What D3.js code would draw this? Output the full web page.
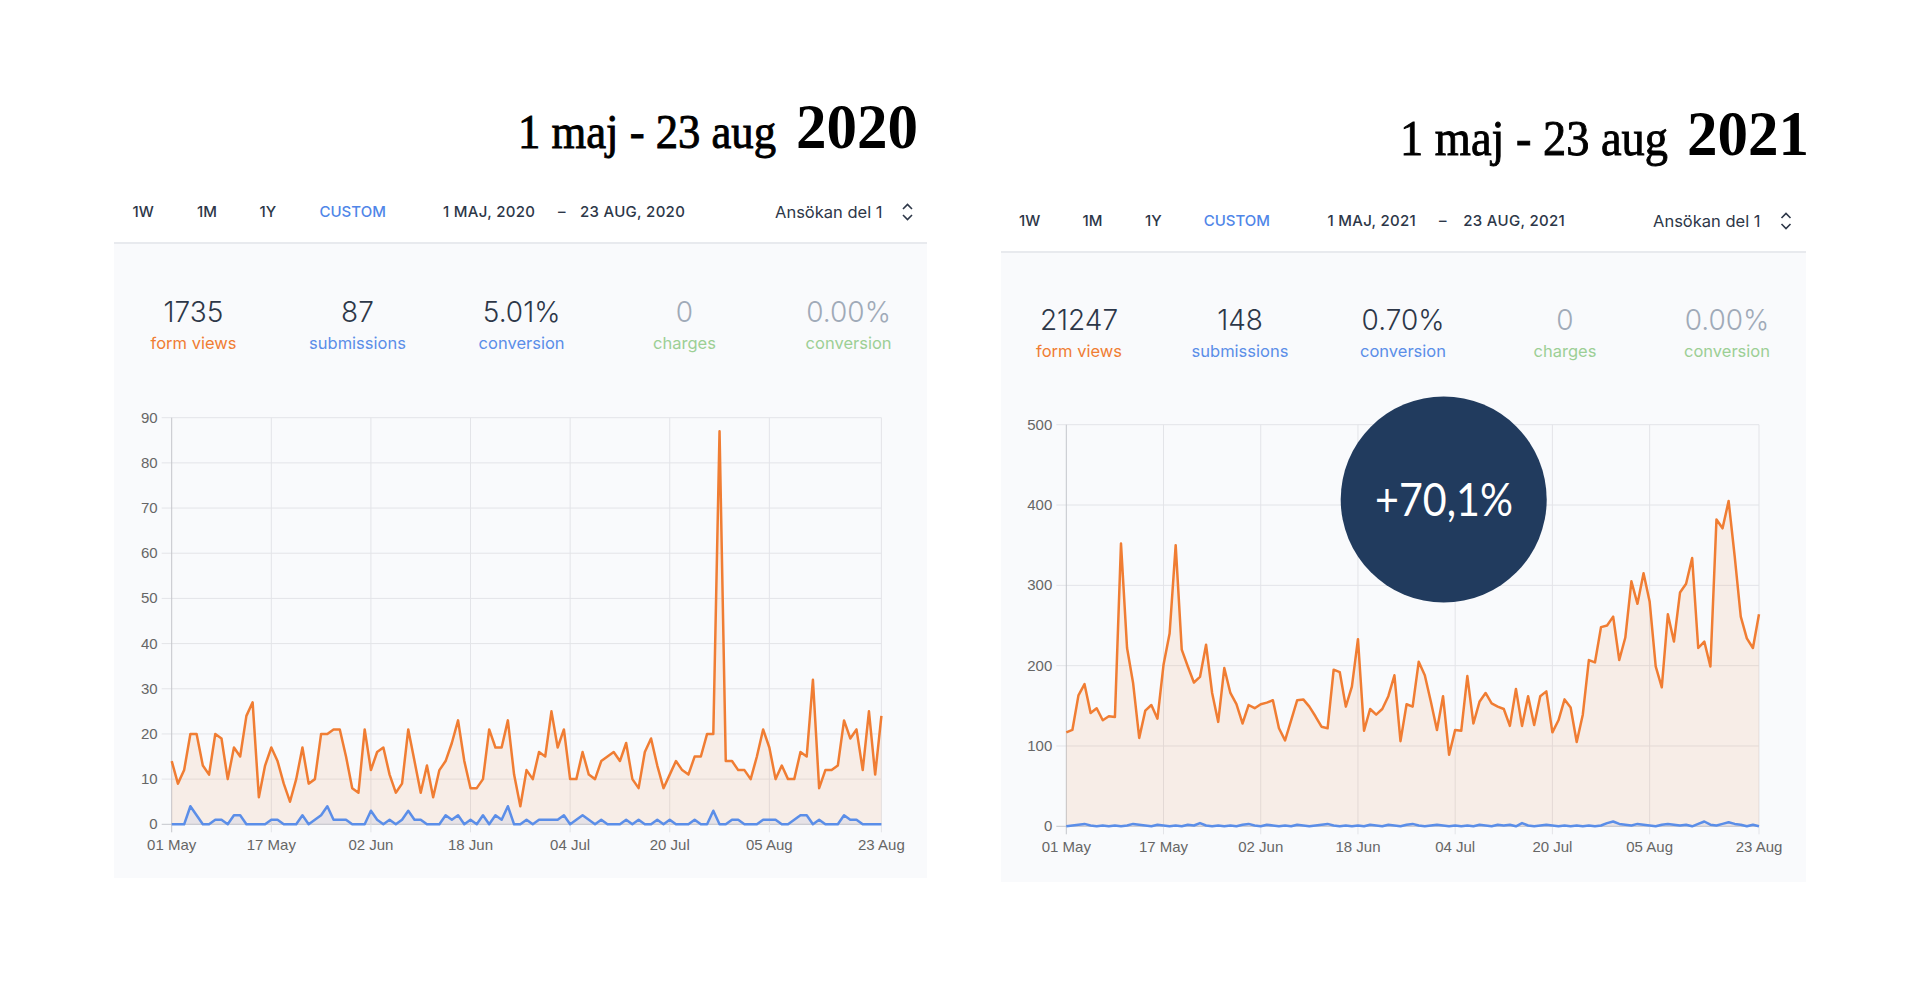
<!DOCTYPE html>
<html>
<head>
<meta charset="utf-8">
<script src="https://cdn.jsdelivr.net/npm/d3@7/dist/d3.min.js"></script>
<style>
  html, body { margin: 0; padding: 0; background: #ffffff; }
  svg { display: block; }
</style>
</head>
<body>
<svg id="chart" width="1920" height="999"></svg>
<script>
// ---------------- DATA ----------------
const periodStart2020 = "2020-05-01";
const periodEnd2020 = "2020-08-23";
const periodStart2021 = "2021-05-01";
const periodEnd2021 = "2021-08-23";

const tickDates2020 = ["2020-05-01","2020-05-17","2020-06-02","2020-06-18","2020-07-04","2020-07-20","2020-08-05","2020-08-23"];
const tickDates2021 = ["2021-05-01","2021-05-17","2021-06-02","2021-06-18","2021-07-04","2021-07-20","2021-08-05","2021-08-23"];

const yTicks2020 = [0,10,20,30,40,50,60,70,80,90];
const yTicks2021 = [0,100,200,300,400,500];

const formViews2020 = [
  14, 9,12,20,20,13,11,20,19,10,
  17,15,24,27, 6,13,17,14, 9, 5,
  10,17, 9,10,20,20,21,21,15, 8,
   7,21,12,16,17,11, 7, 9,21,14,
   7,13, 6,12,14,18,23,14, 8, 8,
  10,21,17,17,23,11, 4,12,10,16,
  15,25,17,21,10,10,16,11,10,14,
  15,16,14,18,10, 8,16,19,13, 8,
  11,14,12,11,15,15,20,20,87,14,
  14,12,12,10,15,21,17,10,13,10,
  10,16,15,32, 8,12,12,13,23,19,
  21,12,25,11,24
];
const submissions2020 = [
  0,0,0,4,2,0,0,1,1,0,
  2,2,0,0,0,0,1,1,0,0,
  0,2,0,1,2,4,1,1,1,0,
  0,0,3,1,0,1,0,1,3,1,
  1,0,0,0,2,1,2,0,1,0,
  2,0,2,1,4,0,0,1,0,1,
  1,1,1,2,0,1,2,1,0,1,
  0,0,0,1,0,1,0,0,1,0,
  1,0,0,0,1,0,0,3,0,0,
  1,1,0,0,0,1,1,1,0,0,
  1,2,2,0,1,0,0,0,2,1,
  1,0,0,0,0
];
const formViews2021 = [
  117,120,163,177,141,147,132,137,136,352,
  222,178,110,144,151,134,201,240,350,220,
  199,179,186,226,166,130,197,166,152,128,
  151,147,152,154,157,122,107,132,157,158,
  149,137,124,122,195,192,149,174,233,119,
  146,139,146,162,188,106,152,149,205,188,
  155,120,162, 89,120,119,187,128,155,166,
  153,149,146,125,171,125,162,126,162,168,
  117,132,158,148,105,139,207,204,248,250,
  261,207,235,305,277,315,280,199,173,264,
  230,291,302,334,222,230,199,382,371,405,
  336,261,234,222,264
];
const submissions2021 = [
  0,1,2,3,1,0,1,0,1,0,
  1,3,2,1,0,2,1,0,1,0,
  2,1,4,1,0,1,0,1,0,2,
  3,1,0,2,1,0,1,0,2,1,
  0,1,2,3,1,0,1,0,1,0,
  2,1,0,2,1,0,2,3,1,0,
  1,2,1,0,1,0,1,0,2,1,
  0,2,1,2,0,4,1,0,1,2,
  1,0,1,0,1,0,1,0,1,4,
  6,3,2,1,3,2,1,0,2,3,
  2,1,2,0,3,6,2,1,3,5,
  3,2,0,2,0
];

const navLabels = ["1W","1M","1Y","CUSTOM"];
const rangeLabels2020 = ["1 MAJ, 2020","–","23 AUG, 2020"];
const rangeLabels2021 = ["1 MAJ, 2021","–","23 AUG, 2021"];
const formName = "Ansökan del 1";

const statValues2020 = ["1735","87","5.01%","0","0.00%"];
const statValues2021 = ["21247","148","0.70%","0","0.00%"];
const statLabels = ["form views","submissions","conversion","charges","conversion"];

const titleMain = "1 maj - 23 aug";
const titleYears = ["2020","2021"];
const badgeText = "+70,1%";

// ---------------- STYLE ----------------
const C = {
  panel: "#f9fafc",
  sep: "#e8eaee",
  nav: "#2d3748",
  navActive: "#4f86e8",
  numDark: "#2d3748",
  numGrey: "#a0aab8",
  orange: "#f07d33",
  blue: "#5b8ee8",
  green: "#9ccf95",
  grid: "#e3e4e8",
  axis: "#c4c6cb",
  tick: "#666666",
  badge: "#213b5e"
};
const statLabelColors = [C.orange, C.blue, C.blue, C.green, C.green];
const statNumColors = [C.numDark, C.numDark, C.numDark, C.numGrey, C.numGrey];

const svg = d3.select("#chart");
const parse = d3.utcParse("%Y-%m-%d");
const fmt = d3.utcFormat("%d %b");

function drawPanel(o) {
  const g = svg.append("g");

  // title
  g.append("text")
    .attr("x", o.title.x1).attr("y", o.title.base)
    .attr("font-family", "'Liberation Serif', 'DejaVu Serif', serif")
    .attr("font-size", o.title.fs1)
    .attr("stroke", "#000").attr("stroke-width", 0.9)
    .attr("textLength", o.title.w1).attr("lengthAdjust", "spacingAndGlyphs")
    .attr("fill", "#000").text(titleMain);
  g.append("text")
    .attr("x", o.title.x2).attr("y", o.title.base)
    .attr("font-family", "'Liberation Serif', 'DejaVu Serif', serif")
    .attr("font-size", o.title.fs2).attr("font-weight", "bold")
    .attr("textLength", o.title.w2).attr("lengthAdjust", "spacingAndGlyphs")
    .attr("fill", "#000").text(o.year);

  // panel bg + separator
  g.append("rect").attr("x", o.px0).attr("y", o.sepY)
    .attr("width", o.px1 - o.px0).attr("height", o.py1 - o.sepY).attr("fill", C.panel);
  g.append("rect").attr("x", o.px0).attr("y", o.sepY - 2)
    .attr("width", o.px1 - o.px0).attr("height", 2).attr("fill", C.sep);

  // nav row
  const navFont = "Inter, 'Noto Sans', sans-serif";
  navLabels.forEach((t, i) => {
    g.append("text").attr("x", o.navX[i]).attr("y", o.navY)
      .attr("font-family", navFont).attr("font-size", 15).attr("font-weight", 500)
      .attr("fill", t === "CUSTOM" ? C.navActive : C.nav).text(t);
  });
  o.range.forEach((t, i) => {
    g.append("text").attr("x", o.rangeX[i]).attr("y", o.navY)
      .attr("font-family", navFont).attr("font-size", 15).attr("font-weight", 500)
      .attr("letter-spacing", 0.3)
      .attr("fill", C.nav).text(t);
  });
  g.append("text").attr("x", o.formX).attr("y", o.navY + 1)
    .attr("font-family", navFont).attr("font-size", 16.5).attr("font-weight", 400)
    .attr("fill", C.nav).text(formName);
  const cx = o.chevX, cy = o.navY - 5;
  g.append("path")
    .attr("d", `M${cx-4.5},${cy-3} L${cx},${cy-7.5} L${cx+4.5},${cy-3} M${cx-4.5},${cy+3} L${cx},${cy+7.5} L${cx+4.5},${cy+3}`)
    .attr("fill", "none").attr("stroke", C.nav).attr("stroke-width", 1.6);

  // stats
  o.stats.forEach((v, i) => {
    g.append("text").attr("x", o.statX[i]).attr("y", o.statNumY)
      .attr("text-anchor", "middle").attr("font-family", navFont)
      .attr("font-size", 28).attr("font-weight", 300)
      .attr("fill", statNumColors[i]).text(v);
    g.append("text").attr("x", o.statX[i]).attr("y", o.statLabY)
      .attr("text-anchor", "middle").attr("font-family", navFont)
      .attr("font-size", 16.5).attr("font-weight", 400)
      .attr("fill", statLabelColors[i]).text(statLabels[i]);
  });

  // chart
  const x = d3.scaleUtc().domain([parse(o.start), parse(o.end)]).range([o.x0, o.x1]);
  const y = d3.scaleLinear().domain([0, o.yMax]).range([o.yB, o.yT]);
  const days = d3.utcDay.range(parse(o.start), d3.utcDay.offset(parse(o.end), 1));
  const ch = g.append("g");

  // horizontal grid
  ch.selectAll("line.h").data(o.yTicks).join("line")
    .attr("x1", o.x0 - 10).attr("x2", o.x1)
    .attr("y1", d => y(d)).attr("y2", d => y(d))
    .attr("stroke", d => d === 0 ? C.axis : C.grid).attr("stroke-width", 1);
  // vertical grid
  const tks = o.ticks.map(parse);
  ch.selectAll("line.v").data(tks).join("line")
    .attr("x1", d => x(d)).attr("x2", d => x(d))
    .attr("y1", o.yT).attr("y2", o.yB + 8)
    .attr("stroke", (d, i) => i === 0 ? C.axis : C.grid).attr("stroke-width", 1);

  const axisFont = "'Liberation Sans', Arial, sans-serif";
  ch.selectAll("text.yl").data(o.yTicks).join("text")
    .attr("x", o.x0 - 14).attr("y", d => y(d) + 5)
    .attr("text-anchor", "end").attr("font-family", axisFont).attr("font-size", 15)
    .attr("fill", C.tick).text(d => d);
  ch.selectAll("text.xl").data(tks).join("text")
    .attr("x", d => x(d)).attr("y", o.yB + 26)
    .attr("text-anchor", "middle").attr("font-family", axisFont).attr("font-size", 15)
    .attr("fill", C.tick).text(d => fmt(d));

  const series = [
    { vals: o.views, color: C.orange, fill: "rgba(240,125,51,0.10)" },
    { vals: o.subs, color: C.blue, fill: "rgba(91,142,232,0.10)" }
  ];
  series.forEach(s => {
    const pts = days.map((d, i) => [d, s.vals[i]]);
    ch.append("path").datum(pts)
      .attr("d", d3.area().x(d => x(d[0])).y0(y(0)).y1(d => y(d[1])))
      .attr("fill", s.fill);
  });
  series.forEach(s => {
    const pts = days.map((d, i) => [d, s.vals[i]]);
    ch.append("path").datum(pts)
      .attr("d", d3.line().x(d => x(d[0])).y(d => y(d[1])))
      .attr("fill", "none").attr("stroke", s.color).attr("stroke-width", 2.5)
      .attr("stroke-linejoin", "round");
  });
}

drawPanel({
  year: titleYears[0],
  title: { x1: 518, w1: 258, fs1: 48, x2: 796, w2: 122, fs2: 64, base: 148 },
  px0: 114, px1: 927, sepY: 244, py1: 878,
  navY: 217, navX: [132.5, 197, 259.5, 319.5], rangeX: [443, 558, 580],
  range: rangeLabels2020, formX: 775, chevX: 907.5,
  stats: statValues2020, statX: [193.5, 357.5, 521.6, 684.5, 848.6],
  statNumY: 322, statLabY: 349,
  start: periodStart2020, end: periodEnd2020, ticks: tickDates2020,
  x0: 171.7, x1: 881.4, yT: 417.7, yB: 824.3, yMax: 90, yTicks: yTicks2020,
  views: formViews2020, subs: submissions2020
});

drawPanel({
  year: titleYears[1],
  title: { x1: 1400, w1: 268, fs1: 50, x2: 1687, w2: 122, fs2: 64, base: 155 },
  px0: 1001, px1: 1806, sepY: 253, py1: 882,
  navY: 226, navX: [1019, 1082.5, 1145, 1203.7], rangeX: [1327.4, 1439, 1463.3],
  range: rangeLabels2021, formX: 1653, chevX: 1786,
  stats: statValues2021, statX: [1079, 1240, 1403, 1565, 1727],
  statNumY: 330, statLabY: 357,
  start: periodStart2021, end: periodEnd2021, ticks: tickDates2021,
  x0: 1066.3, x1: 1759, yT: 424.7, yB: 826.3, yMax: 500, yTicks: yTicks2021,
  views: formViews2021, subs: submissions2021
});

// badge
svg.append("circle").attr("cx", 1443.7).attr("cy", 499.5).attr("r", 103).attr("fill", C.badge);
svg.append("text").attr("x", 1444).attr("y", 516)
  .attr("text-anchor", "middle").attr("font-family", "Lato, 'Open Sans', sans-serif")
  .attr("font-size", 46).attr("fill", "#ffffff")
  .attr("textLength", 138).attr("lengthAdjust", "spacingAndGlyphs")
  .text(badgeText);
</script>
</body>
</html>
